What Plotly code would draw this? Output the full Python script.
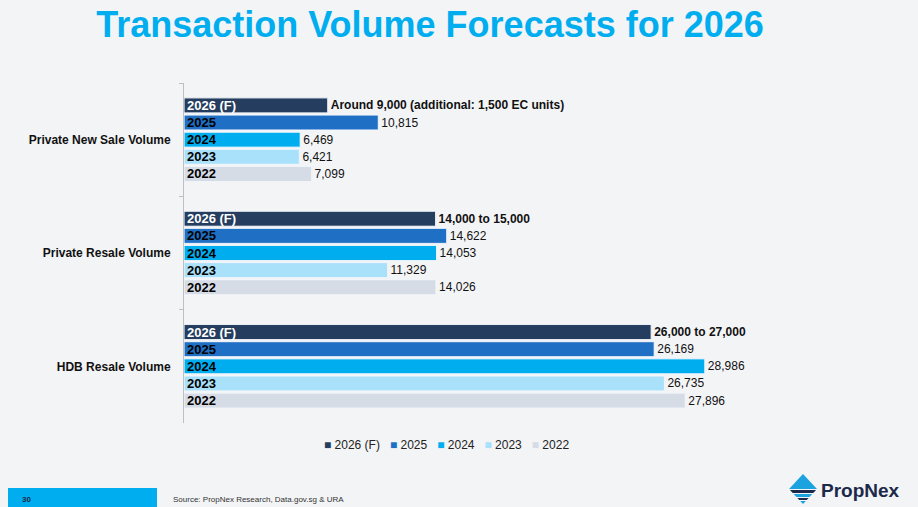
import plotly.graph_objects as go

# categories (top to bottom)
categories = ["Private New Sale Volume", "Private Resale Volume", "HDB Resale Volume"]

# one series per year, values as drawn on the bars
years = ["2026 (F)", "2025", "2024", "2023", "2022"]
vol_2026f = [8000, 14000, 26000]
vol_2025 = [10815, 14622, 26169]
vol_2024 = [6469, 14053, 28986]
vol_2023 = [6421, 11329, 26735]
vol_2022 = [7099, 14026, 27896]

# labels printed after the 2026 forecast bars
labels_2026f = ["Around 9,000 (additional: 1,500 EC units)", "14,000 to 15,000", "26,000 to 27,000"]

colors = ["#253D5E", "#1F6FC4", "#00AEEF", "#A9E0FA", "#D6DCE5"]
inside_colors = ["white", "black", "black", "black", "black"]

W, H = 918, 507
L, R, T, B = 184, 58, 83, 84
pw, ph = W - L - R, H - T - B


def px(x):
    return (x - L) / pw


def py(y):
    return (H - B - y) / ph


fig = go.Figure()

series = [vol_2026f, vol_2025, vol_2024, vol_2023, vol_2022]
for i, (yr, vals) in enumerate(zip(years, series)):
    if i == 0:
        txt = ["<b>%s</b>" % s for s in labels_2026f]
    else:
        txt = ["{:,}".format(v) for v in vals]
    fig.add_trace(go.Bar(
        name=yr, y=categories, x=vals, orientation="h",
        offsetgroup=yr,
        marker=dict(color=colors[i], line=dict(color="rgba(255,255,255,0.85)", width=1)),
        text=txt, textposition="outside", constraintext="none", cliponaxis=False,
        textfont=dict(size=12, color="#111111", family="Arial, Liberation Sans, sans-serif"),
    ))

# year labels drawn inside the bars
for i, (yr, vals) in enumerate(zip(years, series)):
    fig.add_trace(go.Bar(
        y=categories, x=vals, orientation="h", offsetgroup=yr,
        marker=dict(color="rgba(0,0,0,0)"), showlegend=False, hoverinfo="skip",
        text=["<b>%s</b>" % yr] * len(vals), textposition="inside",
        insidetextanchor="start", constraintext="none",
        textfont=dict(size=13, color=inside_colors[i], family="Arial, Liberation Sans, sans-serif"),
    ))

fig.update_layout(
    width=W, height=H,
    margin=dict(l=L, r=R, t=T, b=B),
    paper_bgcolor="#F3F4F6", plot_bgcolor="rgba(0,0,0,0)",
    barmode="group", bargap=0.244, bargroupgap=0.12,
    font=dict(family="Arial, Liberation Sans, sans-serif", color="#111111"),
    title=dict(text="<b>Transaction Volume Forecasts for 2026</b>", x=px(430), xref="paper",
               xanchor="center", y=1 - 24 / H, yanchor="middle",
               font=dict(size=36, color="#00AEEF")),
    xaxis=dict(visible=False, range=[0, 37620]),
    yaxis=dict(type="category", autorange="reversed", showline=True, linecolor="#BFBFBF",
               ticks="outside", tickson="boundaries", ticklen=4, tickcolor="#BFBFBF",
               ticklabelstandoff=10, showgrid=False,
               tickfont=dict(size=12, color="#111111", weight="bold")),
    showlegend=False,
)

# legend row as coloured squares + labels
nb = "\u00a0"
legend_txt = (nb * 3).join('<span style="color:%s">■</span>%s%s' % (c, nb, y) for c, y in zip(colors, years))
fig.add_annotation(text=legend_txt, x=px(446), y=py(445), xref="paper", yref="paper",
                   xanchor="center", yanchor="middle", showarrow=False,
                   font=dict(size=12, color="#222222"))

# footer: page number box, source, logo
shapes = [
    dict(type="rect", xref="paper", yref="paper", x0=px(8), x1=px(157), y0=py(488), y1=py(507),
         fillcolor="#00AEEF", line=dict(width=0), layer="below"),
    # logo diamond: top half
    dict(type="path", xref="paper", yref="paper",
         path="M %f,%f L %f,%f L %f,%f Z" % (px(803), py(474), px(789), py(489), px(817), py(489)),
         fillcolor="#1BA3E0", line=dict(width=0)),
]
bands = [(490, 493, "#1B2A4A"), (494, 497, "#1BA3E0"), (498, 500, "#1B2A4A"), (501, 504, "#1BA3E0")]
for y0, y1, c in bands:
    hw0 = 14 * (1 - (y0 - 489) / 15)
    hw1 = 14 * (1 - (y1 - 489) / 15)
    shapes.append(dict(type="path", xref="paper", yref="paper",
                       path="M %f,%f L %f,%f L %f,%f L %f,%f Z" % (
                           px(803 - hw0), py(y0), px(803 + hw0), py(y0),
                           px(803 + hw1), py(y1), px(803 - hw1), py(y1)),
                       fillcolor=c, line=dict(width=0)))
fig.update_layout(shapes=shapes)

fig.add_annotation(text="<b>30</b>", x=px(20), y=py(499), xref="paper", yref="paper",
                   xanchor="left", yanchor="middle", showarrow=False,
                   font=dict(size=8, color="#1B2A4A"))
fig.add_annotation(text="Source: PropNex Research, Data.gov.sg & URA", x=px(171), y=py(499),
                   xref="paper", yref="paper", xanchor="left", yanchor="middle", showarrow=False,
                   font=dict(size=8, color="#333333"))
fig.add_annotation(text="<b>PropNex</b>", x=px(819), y=py(490), xref="paper", yref="paper",
                   xanchor="left", yanchor="middle", showarrow=False,
                   font=dict(size=19, color="#1B2A4A"))

# page body has an 8px default margin; drop it so the figure fills the window
fig.write_html("out.html", config={"displayModeBar": False},
               post_script="document.body.style.margin='0';")
